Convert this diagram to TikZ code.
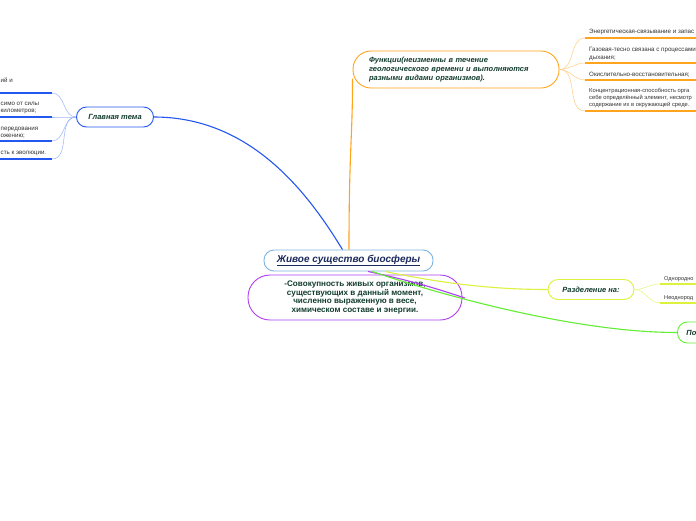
\documentclass[tikz,border=0pt]{standalone}
\usepackage{fontspec}
\setmainfont{Liberation Sans}
\usetikzlibrary{positioning,calc}
\definecolor{txtgreen}{HTML}{123C2E}
\definecolor{txtnavy}{HTML}{1B2A5C}
\definecolor{ccore}{HTML}{7DB4E2}
\definecolor{cblue}{HTML}{2457F0}
\definecolor{corange}{HTML}{FFA41C}
\definecolor{cpurple}{HTML}{B040F2}
\definecolor{cyellow}{HTML}{DDF23C}
\definecolor{cgreen}{HTML}{62EE32}
\tikzset{
  topic/.style={draw,line width=0.9pt,fill=white,text=txtgreen,inner sep=0pt,
    font=\bfseries\itshape\fontsize{7.5}{9}\selectfont},
  leaf/.style={font=\fontsize{6.2}{7.2}\selectfont,text=black!80,inner sep=0pt,align=left},
  branch/.style={line width=1.1pt},
  twig/.style={line width=0.5pt},
  uline/.style={line width=1.4pt},
}
\begin{document}
\begin{tikzpicture}[x=1pt,y=-1pt]
\fill[white] (0,0) rectangle (696,520);
\useasboundingbox (0,0) rectangle (696,520);
% main topics
\node[topic,draw=ccore,minimum width=169pt,minimum height=21pt,rounded corners=10pt,text=txtnavy,
  font=\bfseries\itshape\fontsize{10}{12}\selectfont] (core) at (348.5,260.5) {\underline{Живое существо биосферы}};
\node[topic,draw=cpurple,fill=none,minimum width=214pt,minimum height=45pt,rounded corners=22pt,align=center,
  font=\bfseries\fontsize{8.1}{8.9}\selectfont] (def) at (355,297.5)
  {-Совокупность живых организмов,\\существующих в данный момент,\\численно выраженную в весе,\\химическом составе и энергии.};
\node[topic,draw=corange,minimum width=206pt,minimum height=37pt,rounded corners=18pt,text width=174pt,
  inner xsep=16pt,align=left] (fn) at (456,69.5)
  {Функции(неизменны в течение\\геологического времени и выполняются\\разными видами организмов).};
\node[topic,draw=cblue,minimum width=77pt,minimum height=20pt,rounded corners=10pt] (gl) at (115,117) {Главная тема};
\node[topic,draw=cyellow,minimum width=86pt,minimum height=20pt,rounded corners=10pt] (razd) at (591,289.5) {Разделение на:};
\node[topic,draw=cgreen,anchor=west,minimum height=21pt,rounded corners=10pt,text width=60pt,inner xsep=9pt,
  align=left] (po) at (677,332.5) {По};

% connectors from the core
\draw[branch,cblue] ($(core.north)+(-6,0)$) .. controls (312,200) and (255,117) .. (gl.east);
\draw[branch,corange] ($(core.north)+(0.5,0)$) .. controls +(0,-100) and +(0,60) .. ($(fn.west)+(0,9)$);
\coordinate (dend) at (465,298);
\draw[branch,cpurple] ($(core.south)+(19.5,0)$) to[bend left=3] (dend);
\draw[branch,cyellow] ($(core.south)+(36.5,0)$) .. controls (450,285) and (500,289.5) .. (razd.west);
\draw[branch,cgreen] ($(core.south)+(23.5,0)$) .. controls (450,298) and (580,332.5) .. (po.west);

% left leaves
\foreach \i/\yy in {1/93,2/117,3/141,4/159}{
  \coordinate (l\i) at (52,\yy);
  \draw[uline,cblue] (0,\yy) -- (l\i);
  \draw[twig,cblue!45] (gl.west) to[out=180,in=0] (l\i);
}
\node[leaf,anchor=west] (l1a) at (0.5,80) {ий и};
\node[leaf,anchor=west] (l2a) at (0.5,104) {симо от силы};
\node[leaf,anchor=west] (l2b) at (0.5,111) {километров;};
\node[leaf,anchor=west] (l3a) at (0.5,129) {передования};
\node[leaf,anchor=west] (l3b) at (0.5,136) {ожению;};
\node[leaf,anchor=west] (l4a) at (0.5,153) {сть к эволюции.};

% right leaves
\foreach \i/\yy in {1/38,2/63,3/80,4/111}{
  \coordinate (r\i) at (585,\yy);
  \draw[uline,corange] (r\i) -- (696,\yy);
  \draw[twig,corange!55] (fn.east) to[out=0,in=180] (r\i);
}
\node[leaf,anchor=west] (r1a) at (589,32) {Энергетическая-связывание и запас};
\node[leaf,anchor=west] (r2a) at (589,54) {Газовая-тесно связана с процессами\\дыхания;};
\node[leaf,anchor=west] (r3a) at (589,75) {Окислительно-восстановительная;};
\node[leaf,anchor=west,font=\fontsize{5.8}{7}\selectfont] (r4a) at (589,98)
  {Концентрационная-способность орга\\себе определённый элемент, несмотр\\содержание их в окружающей среде.};

% split leaves
\foreach \i/\yy in {1/284,2/303}{
  \coordinate (s\i) at (660,\yy);
  \draw[uline,cyellow] (s\i) -- (696,\yy);
  \draw[twig,cyellow!70] (razd.east) to[out=0,in=180] (s\i);
}
\node[leaf,anchor=west,font=\fontsize{5.6}{7}\selectfont] (s1a) at (664,279.5) {Однородно};
\node[leaf,anchor=west,font=\fontsize{5.6}{7}\selectfont] (s2a) at (664,298) {Неоднород};
\end{tikzpicture}
\end{document}
